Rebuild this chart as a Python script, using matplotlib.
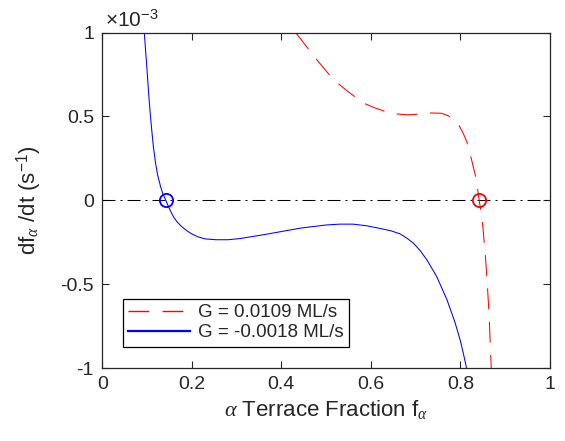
import matplotlib
matplotlib.use("Agg")
import matplotlib.pyplot as plt
from matplotlib.lines import Line2D

plt.rcParams['font.family'] = ['Liberation Sans', 'DejaVu Sans']
plt.rcParams['mathtext.fontset'] = 'custom'
plt.rcParams['mathtext.rm'] = 'Liberation Sans'
plt.rcParams['mathtext.it'] = 'Liberation Serif:italic'
plt.rcParams['mathtext.sf'] = 'Liberation Sans'
plt.rcParams['axes.unicode_minus'] = False

# data (y in units of 1e-3 s^-1)
blue_f = [0.0939, 0.0963, 0.0988, 0.1015, 0.1041, 0.1070, 0.1104, 0.1142, 0.1189, 0.1236,
          0.1303, 0.1354, 0.1419, 0.1491, 0.1587, 0.1669, 0.1770, 0.1893, 0.1998, 0.2139,
          0.2295, 0.2541, 0.2809, 0.3077, 0.367, 0.442, 0.50, 0.531, 0.56, 0.591,
          0.621, 0.645, 0.665, 0.68, 0.695, 0.71, 0.725, 0.747, 0.770, 0.788,
          0.800, 0.807, 0.8135]
blue_y = [1.000, 0.910, 0.821, 0.719, 0.618, 0.522, 0.421, 0.319, 0.224, 0.152,
          0.081, 0.039, 0.0, -0.045, -0.097, -0.128, -0.156, -0.182, -0.200, -0.218,
          -0.230, -0.235, -0.235, -0.228, -0.202, -0.166, -0.147, -0.142, -0.142, -0.152,
          -0.168, -0.182, -0.200, -0.225, -0.256, -0.300, -0.355, -0.455, -0.594, -0.730,
          -0.840, -0.920, -1.0]
red_f = [0.432, 0.460, 0.479, 0.507, 0.527, 0.545, 0.563, 0.587, 0.607, 0.628,
         0.658, 0.681, 0.705, 0.732, 0.758, 0.773, 0.784, 0.796, 0.805, 0.814,
         0.823, 0.833, 0.8378, 0.8418, 0.8462, 0.8496, 0.8552, 0.8603, 0.8641, 0.8687]
red_y = [1.0, 0.904, 0.839, 0.749, 0.696, 0.657, 0.620, 0.576, 0.553, 0.534,
         0.515, 0.510, 0.513, 0.521, 0.519, 0.504, 0.484, 0.451, 0.406, 0.351,
         0.261, 0.152, 0.075, 0.0, -0.075, -0.146, -0.315, -0.515, -0.694, -1.0]
fixed_blue = (0.1425, 0.0)
fixed_red = (0.8415, 0.0)
labels = ['G = 0.0109 ML/s', 'G = -0.0018 ML/s']
xticks = [0, 0.2, 0.4, 0.6, 0.8, 1]
xticklabels = ['0', '0.2', '0.4', '0.6', '0.8', '1']
yticks = [-1, -0.5, 0, 0.5, 1]
yticklabels = ['-1', '-0.5', '0', '0.5', '1']

TXT = '#262626'
RED_DASH = (0, (20, 12))
fig = plt.figure(figsize=(5.65, 4.41), dpi=100)
ax = fig.add_axes([0.181, 0.1655, 0.7925, 0.7605])

ax.plot([0, 1], [0, 0], color='black', lw=0.75, linestyle=(0, (12.5, 4.8, 1.9, 4.8)))
ax.plot(red_f, red_y, color='red', lw=0.75, linestyle=RED_DASH)
ax.plot(blue_f, blue_y, color='blue', lw=0.75)
ax.plot(*fixed_blue, 'o', mfc='none', mec='blue', ms=9.5, mew=1.3)
ax.plot(*fixed_red, 'o', mfc='none', mec='red', ms=9.5, mew=1.3)

ax.set_xlim(0, 1)
ax.set_ylim(-1, 1)
ax.set_xticks(xticks)
ax.set_xticklabels(xticklabels)
ax.set_yticks(yticks)
ax.set_yticklabels(yticklabels)
ax.tick_params(direction='in', length=5, width=0.8, colors=TXT, labelsize=14,
               top=True, right=True, pad=6)
for s in ax.spines.values():
    s.set_color(TXT)
    s.set_linewidth(0.9)

ax.set_xlabel(r'$\alpha$ Terrace Fraction f$_{\alpha}$', fontsize=16, color=TXT, labelpad=3)
ax.set_ylabel(r'df$_{\alpha}$ /dt (s$^{-1}$)', fontsize=16, color=TXT, labelpad=12)
ax.text(0.005, 1.005, r'$\times$10$^{-3}$', transform=ax.transAxes, fontsize=15,
        color=TXT, ha='left', va='bottom')

handles = [Line2D([], [], color='red', lw=1.0, linestyle=(0, (15, 9.5))),
           Line2D([], [], color='blue', lw=1.6)]
leg = ax.legend(handles=handles, labels=labels, loc='lower left',
                bbox_to_anchor=(0.046, 0.063),
                borderaxespad=0, fontsize=13.5, handlelength=3.3, fancybox=False,
                framealpha=1, edgecolor='black', borderpad=0.3,
                labelspacing=0.15, handletextpad=0.4)
for t in leg.get_texts():
    t.set_color(TXT)
leg.get_frame().set_linewidth(0.9)

fig.savefig('out.png', dpi=100)
